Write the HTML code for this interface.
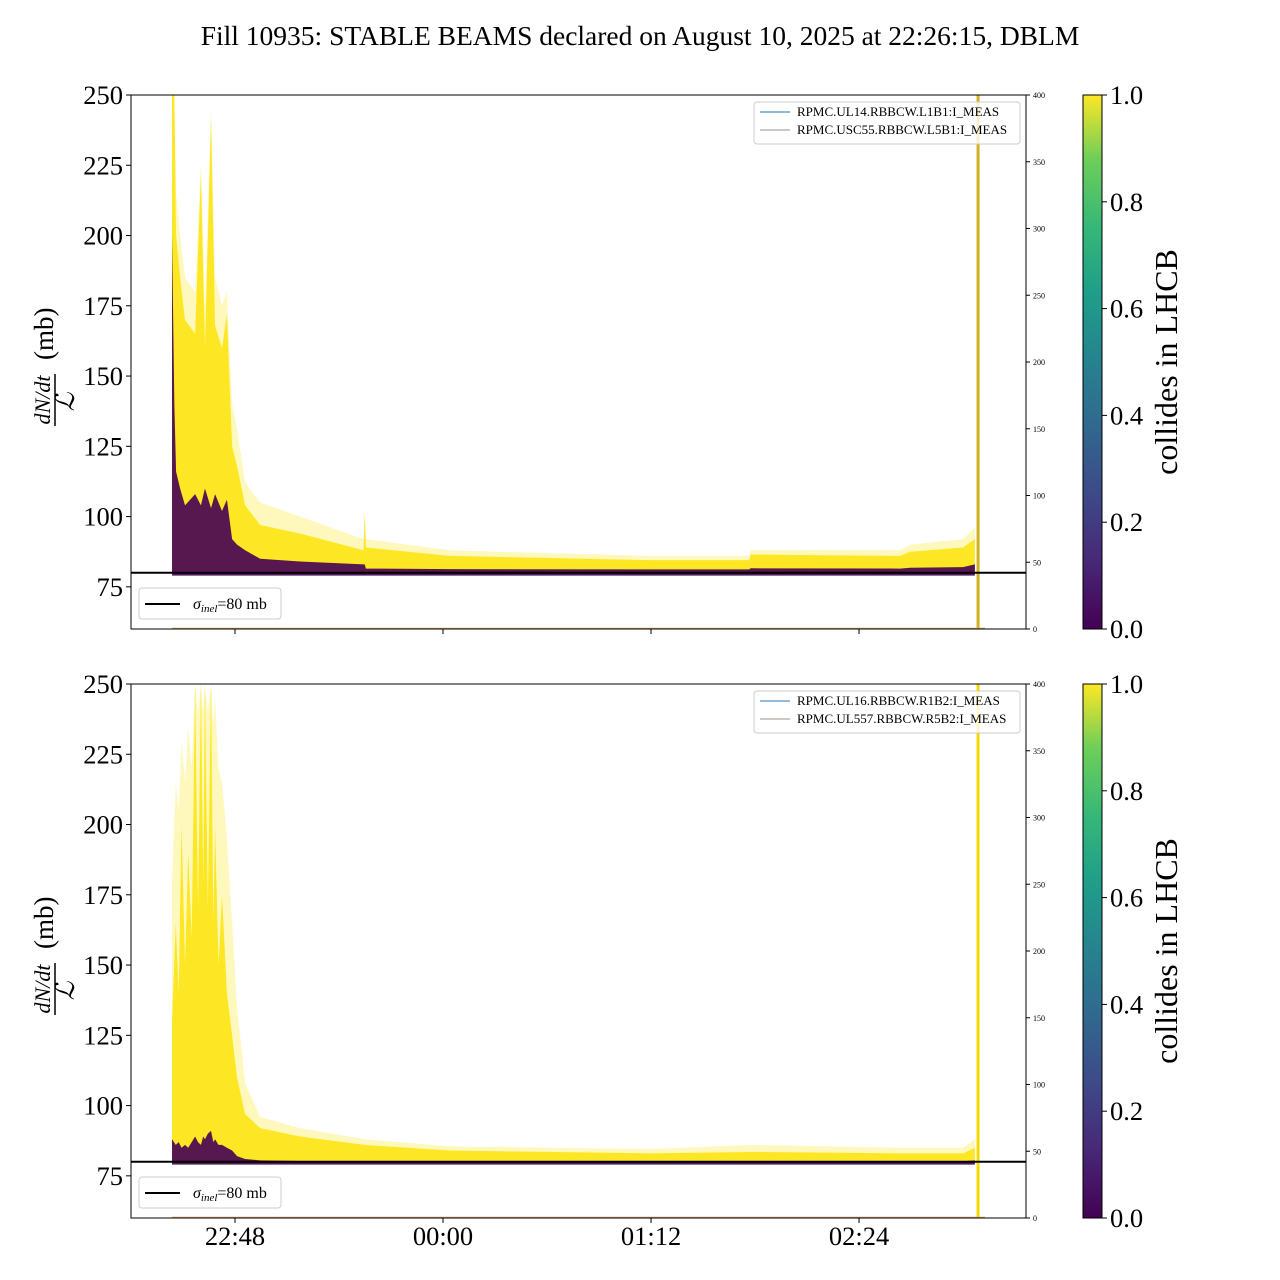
<!DOCTYPE html>
<html><head><meta charset="utf-8"><style>
html,body{margin:0;padding:0;background:#fff;}
svg{display:block;font-family:"Liberation Serif",serif;}
</style></head><body>
<svg id="chart" width="1280" height="1280" viewBox="0 0 1280 1280" xmlns="http://www.w3.org/2000/svg">
<defs>
<linearGradient id="viridis" x1="0" y1="1" x2="0" y2="0">
<stop offset="0" stop-color="#440154"/><stop offset="0.13" stop-color="#482878"/><stop offset="0.25" stop-color="#3e4989"/><stop offset="0.38" stop-color="#31688e"/><stop offset="0.5" stop-color="#26828e"/><stop offset="0.63" stop-color="#1f9e89"/><stop offset="0.75" stop-color="#35b779"/><stop offset="0.88" stop-color="#6ece58"/><stop offset="1" stop-color="#fde725"/>
</linearGradient>
</defs>
<text x="640" y="45" font-size="27.5" text-anchor="middle">Fill 10935: STABLE BEAMS declared on August 10, 2025 at 22:26:15, DBLM</text>
<g id="p0"></g>
<g id="p1"></g>
</svg>
<script>
// x tick labels (minutes after 22:00)
const xTickVals = [48, 120, 192, 264];
const xTickLabels = ["22:48", "00:00", "01:12", "02:24"];
const yTickVals = [75, 100, 125, 150, 175, 200, 225, 250];
const y2TickVals = [0, 50, 100, 150, 200, 250, 300, 350, 400];
const cbTickVals = [0.0, 0.2, 0.4, 0.6, 0.8, 1.0];
const sigmaInel = 80;
// top panel envelopes (time in minutes after 22:00, values in mb)
const topTimes   = [26.2, 27.0, 27.6, 29.0, 30.7, 34.2, 36.2, 37.6, 39.7, 41.1, 43.5, 45.2, 47.0, 48.7, 51.5, 56.7, 70.5, 92.5, 92.9, 93.3, 122.4, 191.6, 226.0, 226.5, 278.2, 281.7, 300.0, 304.1];
const topYellow  = [250, 250, 200, 185, 170, 165, 222, 160, 242, 168, 160, 172, 125, 118, 104, 97, 94, 88, 101, 89, 86, 84.5, 84.5, 86.5, 86, 87.5, 89, 92];
const topFuzzy   = [250, 250, 215, 200, 185, 180, 226, 175, 245, 185, 175, 180, 140, 131, 112, 105, 100, 92, 102, 92, 88, 86, 86, 88, 88, 90, 92, 96];
const topDark    = [200, 140, 116, 110, 104, 108, 104, 110, 103, 108, 102, 106, 92, 90, 88, 85, 84, 83, 83, 81.5, 81.3, 81.2, 81.2, 81.6, 81.5, 81.8, 82, 83];
// bottom panel envelopes
const botTimes   = [26.2, 27.5, 28.5, 29.5, 30.7, 31.8, 33.0, 34.2, 35.2, 36.2, 37.0, 37.6, 38.6, 39.7, 40.5, 41.1, 42.3, 43.5, 45.2, 47.0, 48.7, 51.5, 56.7, 70.5, 92.9, 122.4, 191.6, 226.5, 278.2, 300.0, 304.1];
const botYellow  = [130, 165, 140, 200, 150, 190, 160, 250, 170, 250, 180, 250, 170, 250, 165, 200, 150, 175, 140, 125, 110, 97, 92, 89, 86, 84, 83, 83.5, 83, 83, 85];
const botFuzzy   = [180, 215, 205, 230, 215, 235, 220, 250, 240, 250, 240, 250, 240, 250, 235, 245, 220, 215, 195, 165, 135, 108, 96, 92, 88, 85.5, 84.5, 86, 85, 85, 88];
const botDark    = [88, 86, 87, 85, 86, 85, 87, 89, 87, 86, 89, 88, 90, 91, 87, 88, 86, 86, 85, 84, 82, 81, 80.5, 80.3, 80.2, 80.2, 80.2, 80.3, 80.2, 80.2, 80.5];
const dumpTime = 305.2;

const NS = "http://www.w3.org/2000/svg";
const X0 = 131, X1 = 1026, T0 = 12, PXMIN = 2.889;
const xs = t => X0 + (t - T0) * PXMIN;
function mk(parent, tag, attrs) { const e = document.createElementNS(NS, tag); for (const k in attrs) e.setAttribute(k, attrs[k]); parent.appendChild(e); return e; }

function panel(g, top, times, yellow, fuzzy, dark, legendNames, bottomAxis, dumpColor) {
  const bot = top + 534;
  const ys = v => bot - (v - 60) * (534 / 190);
  const y2 = v => bot - v * (534 / 400);
  let pts = times.map((t, i) => xs(t) + "," + ys(fuzzy[i])).join(" ");
  let p = mk(g, "polygon", { points: xs(times[0]) + "," + ys(79.5) + " " + pts + " " + xs(times[times.length - 1]) + "," + ys(79.5), fill: "#fde725", "fill-opacity": "0.3" });
  
  
  pts = times.map((t, i) => xs(t) + "," + ys(yellow[i])).join(" ");
  p = mk(g, "polygon", { points: xs(times[0]) + "," + ys(79.5) + " " + pts + " " + xs(times[times.length - 1]) + "," + ys(79.5), fill: "#fde725" });
  
  
  pts = times.map((t, i) => xs(t) + "," + ys(dark[i])).join(" ");
  p = mk(g, "polygon", { points: xs(times[0]) + "," + ys(79) + " " + pts + " " + xs(times[times.length - 1]) + "," + ys(79), fill: "#440154", "fill-opacity": "0.9" });
  
  
  let l = mk(g, "line", { x1: xs(dumpTime), x2: xs(dumpTime), y1: top, y2: bot, stroke: dumpColor, "stroke-width": 3 });
  
  
  l = mk(g, "line", { x1: xs(times[0]), x2: xs(dumpTime) + 7, y1: bot - 0.5, y2: bot - 0.5, stroke: "#d9a066", "stroke-width": 1.5 });
  
  
  l = mk(g, "line", { x1: X0, x2: X1, y1: ys(sigmaInel), y2: ys(sigmaInel), stroke: "#000", "stroke-width": 2 });
  
  
  const fr = mk(g, "rect", { x: X0, y: top, width: X1 - X0, height: 534, fill: "none", stroke: "#000", "stroke-width": 1 });
  
  
  yTickVals.forEach(v => {
    const y = ys(v);
    const tk = mk(g, "line", { x1: X0 - 5, x2: X0, y1: y, y2: y, stroke: "#000" });
    
    
    const tx = mk(g, "text", { x: X0 - 8, y: y + 9, "font-size": 26.5, "text-anchor": "end" });
    tx.textContent = v;
    
    
  });
  y2TickVals.forEach(v => {
    const y = y2(v);
    const tk = mk(g, "line", { x1: X1, x2: X1 + 4, y1: y, y2: y, stroke: "#000" });
    
    
    const tx = mk(g, "text", { x: X1 + 7, y: y + 3, "font-size": 8 });
    tx.textContent = v;
    
    
  });
  xTickVals.forEach((v, i) => {
    const x = xs(v);
    const tk = mk(g, "line", { x1: x, x2: x, y1: bot, y2: bot + 5, stroke: "#000" });
    
    
    if (bottomAxis) {
      const tx = mk(g, "text", { x: x, y: bot + 27, "font-size": 26.5, "text-anchor": "middle" });
      tx.textContent = xTickLabels[i];
      
      
    }
  });
  const yl = mk(g, "g", { transform: "translate(0," + (top + 267) + ")" });
  
  
  let t = mk(yl, "text", { transform: "translate(53,-2) rotate(-90)", "font-size": 27, x: 0, y: 0 });
  t.textContent = "(mb)";
  t = mk(yl, "text", { transform: "translate(50,38) rotate(-90)", "font-size": 22, "font-style": "italic", "text-anchor": "middle" });
  t.textContent = "dN/dt";
  mk(yl, "line", { x1: 55, x2: 55, y1: 12, y2: 64, stroke: "#000", "stroke-width": 1.5 });
  t = mk(yl, "text", { transform: "translate(74,40) rotate(-90)", "font-size": 26, "font-style": "italic", "text-anchor": "middle" });
  t.textContent = "ℒ";
  const lg = mk(g, "g", {});
  
  
  mk(lg, "rect", { x: 754, y: top + 7, width: 266, height: 42, rx: 3, fill: "#fff", "fill-opacity": 0.8, stroke: "#ccc" });
  const colors = ["#1f77b4", "#a08c8c"];
  legendNames.forEach((n, i) => {
    const yy = top + 17 + i * 18;
    const ln = mk(lg, "line", { x1: 760, x2: 790, y1: yy, y2: yy, stroke: colors[i], "stroke-width": 1 });
    
    
    const tx = mk(lg, "text", { x: 797, y: yy + 4, "font-size": 13 });
    tx.textContent = n;
    
    
  });
  const sg = mk(g, "g", {});
  
  
  mk(sg, "rect", { x: 139, y: bot - 41, width: 142, height: 31, rx: 3, fill: "#fff", stroke: "#ccc" });
  mk(sg, "line", { x1: 145, x2: 180, y1: bot - 25, y2: bot - 25, stroke: "#000", "stroke-width": 2 });
  const st = mk(sg, "text", { x: 193, y: bot - 20, "font-size": 16 });
  st.innerHTML = '<tspan font-style="italic">σ</tspan><tspan font-style="italic" font-size="11" dy="3">inel</tspan><tspan dy="-3">=80 mb</tspan>';
  const cb = mk(g, "g", {});
  
  
  mk(cb, "rect", { x: 1083, y: top, width: 19, height: 534, fill: "url(#viridis)", stroke: "#000", "stroke-width": 1 });
  cbTickVals.forEach(v => {
    const y = bot - v * 534;
    mk(cb, "line", { x1: 1102, x2: 1107, y1: y, y2: y, stroke: "#000" });
    const tx = mk(cb, "text", { x: 1110, y: y + 9, "font-size": 26.5 });
    tx.textContent = v.toFixed(1);
    
    
  });
  const cl = mk(cb, "text", { transform: "translate(1177," + (top + 267) + ") rotate(-90)", "font-size": 32, "text-anchor": "middle" });
  cl.textContent = "collides in LHCB";
  
  
}
panel(document.getElementById("p0"), 95, topTimes, topYellow, topFuzzy, topDark, ["RPMC.UL14.RBBCW.L1B1:I_MEAS", "RPMC.USC55.RBBCW.L5B1:I_MEAS"], false, "#d4b020");
panel(document.getElementById("p1"), 684, botTimes, botYellow, botFuzzy, botDark, ["RPMC.UL16.RBBCW.R1B2:I_MEAS", "RPMC.UL557.RBBCW.R5B2:I_MEAS"], true, "#f5d800");
</script>
</body></html>
